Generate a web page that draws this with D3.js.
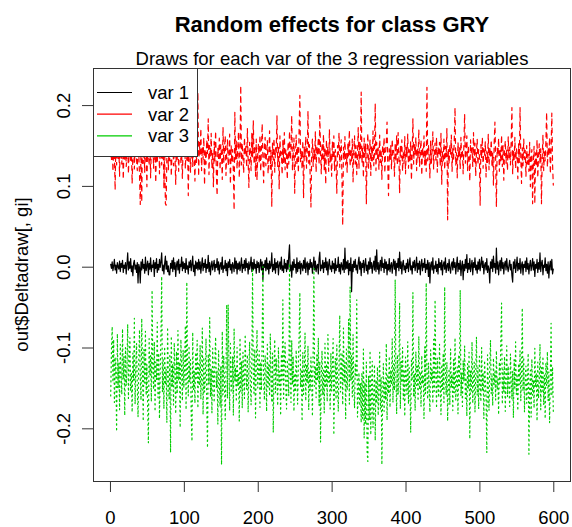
<!DOCTYPE html>
<html><head><meta charset="utf-8">
<script src="https://cdn.jsdelivr.net/npm/d3@7"></script>
<style>body{margin:0;background:#fff}svg{display:block}</style>
</head><body>
<svg id="c" width="572" height="527"></svg>
<script>
// Draw index runs 1..600 for each series
const var1 = [
.003,-.002,.006,-.005,.001,.009,-.004,.002,-.008,.005,.000,-.003,.007,-.006,.004,-.001,.008,-.007,.002,-.002,
.005,-.009,.003,.017,-.004,.006,-.002,.010,-.006,.001,-.011,.004,.008,-.003,.002,-.007,.005,-.020,.003,-.001,
-.020,.006,-.004,.009,-.002,.003,-.008,.012,-.005,.001,.007,-.010,.004,-.003,.011,-.006,.002,-.001,.008,-.012,
.005,-.002,.010,-.007,.003,-.004,.009,-.001,.006,.017,-.005,.002,-.009,.004,.013,-.003,.007,-.006,.001,-.010,
-.010,.004,-.002,.008,-.006,.011,-.003,.005,-.012,.002,.007,-.004,.009,-.008,.003,.000,.012,-.005,.006,-.002,
.004,-.007,.010,-.003,.001,-.009,.006,-.001,.008,-.005,.003,.013,-.006,.002,-.011,.007,-.002,.005,-.004,.009,
-.003,.006,-.008,.002,.011,-.005,.004,-.001,.009,-.007,.003,-.002,.014,-.006,.005,-.010,.001,.007,-.004,.002,
.008,-.006,.003,-.001,.010,-.004,.006,-.009,.002,.005,-.003,.012,-.007,.001,-.002,.008,-.005,.004,-.011,.006,
-.001,.009,-.004,.003,-.008,.005,.001,-.006,.011,-.002,.007,-.009,.004,-.003,.006,-.005,.002,.011,-.007,.003,
-.002,.008,-.005,.010,-.001,.004,-.009,.006,-.003,.002,.012,-.006,.005,-.004,.009,-.002,.003,-.008,.007,-.001,
.005,-.007,.002,.009,-.004,.006,-.016,.003,-.001,.008,-.005,.011,-.003,.004,-.009,.007,-.002,.001,.017,-.006,
.003,-.004,.010,-.008,.005,-.001,.007,-.010,.002,.006,-.003,.012,-.005,.001,-.007,.009,-.002,.004,-.006,.008,
-.003,.014,.027,-.005,.002,-.013,.006,-.004,.009,-.001,.003,-.008,.011,-.006,.005,-.002,.007,-.009,.004,.001,
-.005,.008,-.002,.011,-.007,.003,.006,-.010,.004,-.003,.009,-.001,.005,-.008,.002,.012,-.004,.007,-.006,.001,
.003,-.009,.010,.018,-.005,.002,-.002,.008,-.007,.005,-.001,.011,-.004,.006,-.010,.003,.009,-.003,.001,-.006,
.007,-.002,.004,-.008,.010,-.005,.002,-.001,.012,-.006,.003,-.009,.005,.001,-.004,.009,-.007,.023,-.003,.006,
-.002,.008,-.010,.004,-.005,.011,-.031,.003,-.006,.007,-.001,.009,-.004,.002,-.008,.005,.012,-.003,.006,-.011,
.004,-.001,.008,-.007,.003,.010,-.005,.002,-.009,.006,-.003,.011,-.002,.005,-.008,.001,.007,-.004,.013,-.006,
.021,-.003,.005,-.009,.002,.008,-.005,.012,-.001,.004,-.007,.009,-.002,.006,-.010,.003,-.004,.010,-.006,.001,
.005,-.008,.002,.009,-.003,.007,-.011,.004,-.001,.010,-.005,.018,-.002,.006,-.009,.003,.008,-.004,.001,-.007,
.004,-.002,.009,-.006,.003,.011,-.004,.001,-.009,.006,-.001,.008,-.005,.002,.012,-.007,.004,-.003,.007,-.010,
.002,.009,-.005,.004,-.001,.010,-.007,.003,-.003,.008,-.012,.005,-.020,.002,.006,-.004,.011,-.008,.001,-.002,
.007,-.006,.003,-.009,.010,-.001,.005,-.004,.008,-.010,.002,.006,-.003,.011,-.007,.001,.004,-.005,.009,-.002,
-.008,.003,.006,-.004,.010,-.001,.005,-.009,.002,.012,-.006,.004,-.003,.008,-.011,.001,.007,-.016,.003,-.005,
.009,-.002,.015,-.007,.004,-.003,.010,-.006,.001,.008,-.010,.005,-.001,.011,-.004,.002,-.008,.006,-.003,.009,
-.005,.003,.012,-.001,.007,-.009,.002,.005,-.004,.010,-.007,.001,-.003,-.020,.006,-.002,.009,-.006,.013,-.001,
.004,-.008,.023,-.003,.006,-.010,.002,.008,-.005,.011,-.002,.005,-.009,.003,.007,-.004,.010,-.001,-.006,.002,
.008,-.004,.003,-.011,-.019,.006,-.002,.009,-.007,.001,.012,-.005,.004,-.003,.010,-.008,.002,.006,-.010,.003,
-.001,.007,-.006,.011,-.003,.004,-.009,.002,.008,-.005,.001,.010,-.004,.006,-.012,.003,-.002,.009,-.007,.005,
-.003,.017,-.006,.004,.008,-.010,.002,-.001,.011,-.005,.003,-.008,.006,-.014,.001,.007,-.004,.009,-.009,-.003
];
const var2 = [
.152,.131,.164,.118,.147,.139,.095,.158,.126,.171,.134,.149,.112,.160,.141,.127,.155,.108,.146,.133,
.162,.124,.139,.157,.115,.144,.168,.129,.151,.103,.137,.159,.121,.148,.166,.132,.119,.154,.140,.113,
.077,.145,.080,.163,.128,.150,.117,.172,.136,.099,.155,.142,.125,.161,.110,.147,.134,.169,.122,.151,
.138,.104,.157,.129,.146,.176,.115,.142,.160,.126,.139,.153,.097,.148,.078,.076,.135,.164,.120,.150,
.131,.158,.112,.144,.167,.125,.149,.136,.102,.161,.133,.155,.118,.146,.170,.128,.141,.109,.152,.137,
.163,.121,.147,.132,.156,.088,.143,.166,.117,.139,.158,.124,.150,.135,.106,.162,.129,.145,.216,.112,
.154,.138,.171,.119,.148,.133,.160,.101,.145,.127,.157,.140,.183,.114,.150,.136,.165,.122,.142,.099,
.155,.131,.168,.116,.088,.147,.134,.159,.120,.151,.139,.108,.173,.128,.146,.162,.113,.141,.157,.125,
.137,.164,.102,.150,.129,.145,.118,.070,.191,.133,.156,.121,.148,.167,.110,.142,.224,.126,.153,.135,
.116,.160,.139,.149,.123,.171,.131,.098,.154,.143,.119,.165,.136,.181,.127,.150,.112,.158,.107,.140,
.152,.128,.163,.118,.145,.177,.133,.104,.149,.160,.125,.141,.156,.115,.137,.168,.121,.144,.074,.153,
.132,.159,.117,.147,.139,.187,.124,.150,.096,.162,.135,.142,.114,.157,.129,.166,.120,.145,.138,.108,
.154,.127,.168,.133,.146,.187,.119,.140,.159,.091,.137,.163,.125,.149,.116,.171,.212,.130,.144,.121,
.156,.085,.148,.135,.161,.122,.143,.193,.128,.151,.110,.074,.139,.158,.124,.146,.133,.167,.117,.150,
.138,.160,.126,.187,.142,.115,.153,.131,.164,.120,.147,.102,.157,.136,.149,.118,.170,.129,.141,.112,
.155,.134,.162,.119,.145,.128,.091,.150,.139,.166,.123,.144,.157,.109,.051,.148,.132,.161,.126,.140,
.117,.153,.137,.169,.124,.146,.131,.158,.105,.143,.162,.127,.150,.114,.139,.172,.121,.155,.133,.216,
.128,.147,.110,.159,.136,.152,.078,.144,.165,.122,.138,.157,.113,.149,.131,.168,.125,.141,.202,.119,
.154,.134,.147,.120,.163,.129,.145,.108,.151,.138,.160,.116,.142,.155,.179,.124,.088,.146,.133,.150,
.121,.158,.137,.144,.112,.153,.130,.162,.125,.166,.140,.091,.149,.135,.157,.118,.143,.128,.161,.115,
.148,.136,.164,.122,.145,.131,.155,.107,.140,.183,.127,.151,.138,.160,.119,.146,.133,.170,.124,.142,
.157,.113,.148,.135,.162,.126,.143,.118,.222,.131,.150,.139,.110,.156,.128,.145,.167,.121,.141,.153,
.132,.160,.117,.147,.138,.154,.124,.165,.102,.143,.129,.158,.120,.149,.136,.171,.058,.145,.127,.152,
.139,.163,.118,.146,.131,.157,.197,.125,.141,.110,.154,.136,.148,.121,.160,.133,.145,.115,.151,.189,
.128,.144,.162,.119,.150,.135,.106,.157,.139,.147,.124,.166,.130,.153,.112,.142,.158,.126,.145,.137,
.076,.151,.134,.160,.122,.146,.138,.155,.111,.143,.129,.164,.120,.148,.136,.157,.125,.141,.101,.153,
.179,.132,.074,.147,.138,.159,.118,.145,.130,.163,.124,.150,.107,.142,.156,.128,.145,.119,.161,.134,
.148,.126,.155,.197,.115,.143,.132,.160,.121,.146,.138,.109,.152,.129,.197,.136,.103,.147,.125,.158,
.133,.144,.112,.150,.127,.139,.118,.154,.099,.136,.145,.078,.130,.149,.078,.141,.124,.157,.110,.137,
.152,.128,.146,.078,.135,.163,.119,.142,.131,.155,.191,.123,.148,.137,.160,.115,.144,.190,.127,.101
];
const var3 = [
-.160,-.104,-.074,-.143,-.090,-.168,-.112,-.135,-.204,-.083,-.150,-.119,-.177,-.096,-.131,-.158,-.077,-.139,-.111,-.184,
-.100,-.147,-.125,-.071,-.163,-.116,-.088,-.154,-.132,-.180,-.107,-.141,-.064,-.170,-.123,-.095,-.149,-.186,-.114,-.078,
-.137,-.165,-.064,-.128,-.191,-.102,-.144,-.080,-.159,-.121,-.173,-.218,-.089,-.134,-.110,-.167,-.029,-.126,-.152,-.093,
-.179,-.118,-.140,-.069,-.162,-.107,-.188,-.131,-.084,-.012,-.155,-.113,-.176,-.099,-.146,-.127,-.193,-.075,-.138,-.164,
-.110,-.230,-.086,-.149,-.120,-.171,-.094,-.133,-.182,-.105,-.157,-.079,-.141,-.118,-.199,-.090,-.129,-.166,-.103,-.150,
-.124,-.073,-.177,-.019,-.136,-.160,-.098,-.143,-.115,-.187,-.216,-.081,-.152,-.129,-.169,-.106,-.138,-.091,-.175,-.120,
-.147,-.097,-.164,-.130,-.076,-.183,-.112,-.155,-.139,-.089,-.172,-.224,-.108,-.145,-.063,-.161,-.126,-.181,-.101,-.134,
-.168,-.116,-.087,-.150,-.129,-.195,-.104,-.141,-.173,-.123,-.245,-.080,-.158,-.110,-.146,-.189,-.131,-.047,-.163,-.047,
-.120,-.178,-.095,-.137,-.156,-.111,-.184,-.077,-.142,-.125,-.167,-.100,-.148,-.133,-.191,-.088,-.154,-.117,-.175,-.106,
-.139,-.163,-.084,-.130,-.152,-.109,-.180,-.127,-.093,-.145,-.171,-.114,-.004,-.136,-.159,-.102,-.187,-.123,-.078,-.150,
-.132,-.104,-.174,-.118,-.153,-.087,0,-.141,-.165,-.110,-.128,-.179,-.096,-.149,-.121,-.160,-.083,-.143,-.168,-.107,
-.205,-.126,-.090,-.156,-.113,-.138,-.172,-.100,-.147,-.129,-.184,-.108,-.140,-.041,-.163,-.119,-.094,-.151,-.176,-.115,
-.137,-.160,.004,-.124,-.168,-.091,-.146,-.111,-.179,-.132,-.155,-.103,-.141,-.170,-.118,-.086,-.032,-.149,-.127,-.191,
-.106,-.158,-.134,-.082,-.166,-.121,-.144,-.098,-.177,-.130,-.153,-.112,-.139,-.185,-.101,-.002,-.148,-.123,-.162,-.109,
-.141,-.088,-.172,-.117,-.217,-.135,-.104,-.159,-.128,-.181,-.095,-.150,-.120,-.167,-.084,-.143,-.131,-.176,-.107,-.154,
-.125,-.089,-.208,-.138,-.113,-.164,-.097,-.147,-.179,-.122,-.060,-.155,-.134,-.106,-.171,-.076,-.144,-.118,-.188,-.102,
-.153,-.129,-.065,-.170,-.025,-.141,-.110,-.161,-.084,-.150,-.175,-.119,-.137,-.041,-.186,-.158,-.131,-.172,-.144,-.193,
-.131,-.188,-.102,-.212,-.143,-.195,-.118,-.229,-.241,-.135,-.190,-.104,-.208,-.148,-.117,-.199,-.162,-.121,-.215,-.140,
-.169,-.124,-.184,-.150,-.106,-.176,-.137,-.245,-.161,-.120,-.179,-.142,-.165,-.095,-.190,-.133,-.157,-.111,-.174,-.128,
-.146,-.089,-.168,-.120,-.153,-.016,-.135,-.182,-.109,-.158,-.130,-.045,-.176,-.117,-.144,-.100,-.164,-.127,-.185,-.112,
-.139,-.158,-.093,-.170,-.125,-.149,-.205,-.116,-.141,-.032,-.161,-.132,-.178,-.105,-.147,-.123,-.166,-.086,-.152,-.130,
-.173,-.110,-.145,-.134,-.188,-.099,-.157,-.020,-.138,-.164,-.119,-.150,-.180,-.103,-.142,-.127,-.169,-.090,-.154,-.041,
-.131,-.175,-.113,-.148,-.162,-.096,-.140,-.183,-.121,-.152,-.107,-.168,-.025,-.135,-.159,-.118,-.191,-.144,-.126,-.171,
-.102,-.150,-.133,-.178,-.115,-.156,-.088,-.165,-.141,-.124,-.182,-.109,-.147,-.029,-.160,-.131,-.173,-.116,-.142,-.098,
-.163,-.137,-.185,-.120,-.151,-.106,-.213,-.129,-.156,-.093,-.169,-.142,-.118,-.180,-.134,-.087,-.159,-.125,-.176,-.111,
-.145,-.167,-.100,-.154,-.131,-.188,-.116,-.140,-.163,-.230,-.109,-.149,-.178,-.124,-.091,-.157,-.135,-.172,-.113,-.146,
-.130,-.165,-.104,-.152,-.139,-.183,-.118,-.144,-.090,-.045,-.170,-.127,-.155,-.111,-.179,-.136,-.098,-.161,-.123,-.149,
-.173,-.108,-.141,-.164,-.129,-.187,-.115,-.150,-.093,-.158,-.135,-.178,-.120,-.146,-.104,-.166,-.131,-.051,-.154,-.112,
-.180,-.137,-.123,-.169,-.145,-.107,-.232,-.152,-.128,-.186,-.114,-.159,-.140,-.175,-.101,-.149,-.132,-.191,-.118,-.163,
-.142,-.096,-.177,-.125,-.154,-.111,-.171,-.134,-.188,-.119,-.147,-.105,-.166,-.130,-.193,-.137,-.070,-.160,-.124,-.179
];
const seriesNames = ["var 1", "var 2", "var 3"];
const seriesColors = ["#000000", "#FF0000", "#00CD00"];
const seriesDash = [null, "4.6,4.6", "1.2,3.5"];
const xTicks = [0, 100, 200, 300, 400, 500, 600];
const yTicks = [-0.2, -0.1, 0, 0.1, 0.2];
const titleText = "Random effects for class GRY";
const subtitleText = "Draws for each var of the 3 regression variables";
const yLabelText = "out$Deltadraw[, gi]";

const FONT = "'Liberation Sans', Arial, Helvetica, sans-serif";
const L = 93, R = 571, T = 68, B = 481;
const series = [var1, var2, var3];
const n = var1.length;

const svg = d3.select("#c");
svg.append("rect").attr("width", 572).attr("height", 527).attr("fill", "#fff");

const x = d3.scaleLinear().domain([1 - 0.04 * (n - 1), n + 0.04 * (n - 1)]).range([L, R]);
const y = d3.scaleLinear().domain([-0.2652, 0.2459]).range([B, T]);

const line = d3.line().x((d, i) => x(i + 1)).y(d => y(d));

const plot = svg.append("g");
series.forEach((s, k) => {
  plot.append("path")
    .attr("d", line(s))
    .attr("fill", "none")
    .attr("stroke", seriesColors[k])
    .attr("stroke-width", 1.2)
    .attr("stroke-linecap", "round")
    .attr("stroke-linejoin", "round")
    .attr("stroke-dasharray", seriesDash[k]);
});

// axes
const gx = svg.append("g").attr("transform", `translate(0,${B})`)
  .call(d3.axisBottom(x).tickValues(xTicks).tickSize(11).tickPadding(19).tickFormat(d3.format("d")));
gx.select(".domain").remove();
gx.selectAll("line").attr("stroke", "#333");
gx.selectAll("text").attr("font-family", FONT).attr("font-size", 18.5).attr("fill", "#000");

const gy = svg.append("g").attr("transform", `translate(${L},0)`)
  .call(d3.axisLeft(y).tickValues(yTicks).tickSize(11).tickFormat(d => d.toFixed(1)));
gy.select(".domain").remove();
gy.selectAll("line").attr("stroke", "#333");
gy.selectAll("text")
  .attr("font-family", FONT).attr("font-size", 18.5).attr("fill", "#000")
  .attr("x", 0).attr("y", -23).attr("dy", 0)
  .attr("text-anchor", "middle")
  .attr("transform", "rotate(-90)");

// box
svg.append("rect").attr("x", L + 0.5).attr("y", T + 0.5)
  .attr("width", R - L - 1).attr("height", B - T)
  .attr("fill", "none").attr("stroke", "#333").attr("stroke-width", 1);

// titles
svg.append("text").attr("x", 332).attr("y", 31.5).attr("text-anchor", "middle")
  .attr("font-family", FONT).attr("font-weight", "bold").attr("font-size", 22).text(titleText);
svg.append("text").attr("x", 332).attr("y", 65).attr("text-anchor", "middle")
  .attr("font-family", FONT).attr("font-size", 18.5).text(subtitleText);
svg.append("text").attr("transform", `translate(28,${(T + B) / 2}) rotate(-90)`)
  .attr("text-anchor", "middle").attr("font-family", FONT).attr("font-size", 18.5).text(yLabelText);

// legend
const lg = svg.append("g");
lg.append("rect").attr("x", L + 0.5).attr("y", T + 0.5).attr("width", 104).attr("height", 88)
  .attr("fill", "#fff").attr("stroke", "#333");
seriesNames.forEach((name, k) => {
  const yy = 92.5 + k * 21.7;
  lg.append("line").attr("x1", 97).attr("x2", 132).attr("y1", yy).attr("y2", yy)
    .attr("stroke", seriesColors[k]).attr("stroke-width", 1.2);
  lg.append("text").attr("x", 148).attr("y", yy + 6.5)
    .attr("font-family", FONT).attr("font-size", 18.5).text(name);
});
</script>
</body></html>
